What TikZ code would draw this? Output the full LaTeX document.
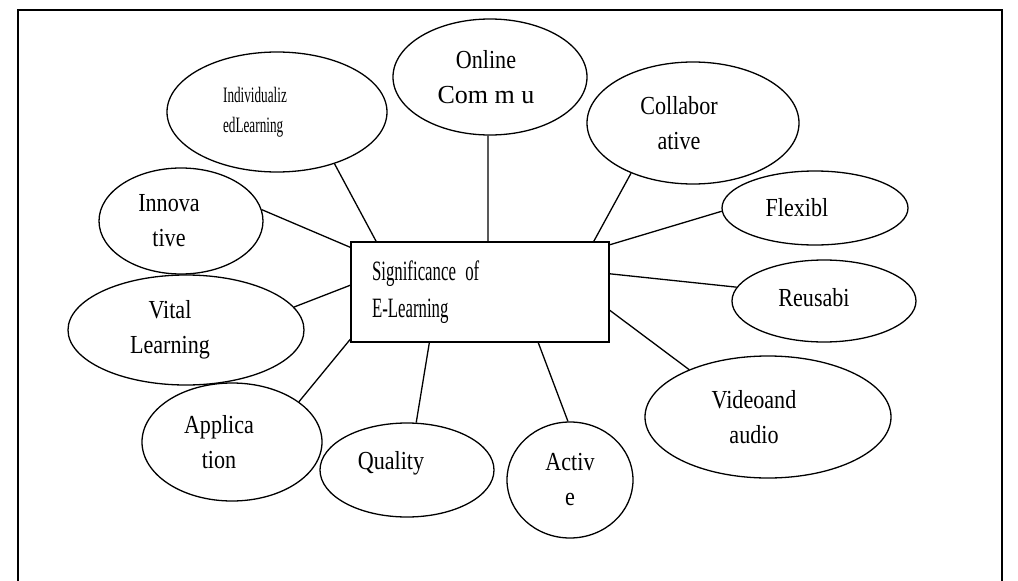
\documentclass[tikz,border=0pt]{standalone}
\usepackage{fontspec}
\setmainfont{Liberation Serif}
\newfontfamily\squeezed[FakeStretch=0.85]{Liberation Serif}
\newfontfamily\tightsqueezed[FakeStretch=0.6]{Liberation Serif}
\usetikzlibrary{shapes.geometric}
\begin{document}
\begin{tikzpicture}[x=1pt,y=-1pt,line width=1.3pt,
  topic/.style={draw,ellipse,inner sep=0pt},
  tag/.style={align=center,inner sep=0pt,font=\fontsize{26}{35}\selectfont\squeezed},
  hub/.style={draw,rectangle,inner xsep=21pt,text width=216pt,minimum height=100pt,align=left,font=\fontsize{28}{37}\selectfont\tightsqueezed}]
\useasboundingbox (0,0) rectangle (1018,581);

% frame
\draw (18,581) -- (18,10) -- (1002,10) -- (1002,581);

\node[hub] (sig) at (480,292) {Significance of\\E-Learning};

\node[topic,minimum width=194pt,minimum height=116pt,label={[tag,xshift=-4pt]center:Online\\{\rmfamily Com m u}}] (onl) at (490,77) {};
\node[topic,minimum width=220pt,minimum height=120pt,label={[tag,align=left,xshift=-22pt,font=\fontsize{22}{30}\selectfont\tightsqueezed]center:Individualiz\\edLearning}] (ind) at (277,112) {};
\node[topic,minimum width=212pt,minimum height=122pt,label={[tag,xshift=-14pt]center:Collabor\\ative}] (col) at (693,123) {};
\node[topic,minimum width=186pt,minimum height=74pt,label={[tag,xshift=-18pt]center:Flexibl}] (flx) at (815,208) {};
\node[topic,minimum width=184pt,minimum height=82pt,label={[tag,xshift=-10pt,yshift=3pt]center:Reusabi}] (reu) at (824,301) {};
\node[topic,minimum width=246pt,minimum height=122pt,label={[tag,xshift=-14pt]center:Videoand\\audio}] (vid) at (768,417) {};
\node[topic,minimum width=126pt,minimum height=116pt,label={[tag]center:Activ\\e}] (act) at (570,480) {};
\node[topic,minimum width=174pt,minimum height=94pt,label={[tag,xshift=-16pt,yshift=7pt]center:Quality}] (qua) at (407,470) {};
\node[topic,minimum width=180pt,minimum height=118pt,label={[tag,xshift=-13pt]center:Applica\\tion}] (app) at (232,442) {};
\node[topic,minimum width=236pt,minimum height=110pt,label={[tag,xshift=-16pt]center:Vital\\Learning}] (vit) at (186,330) {};
\node[topic,minimum width=164pt,minimum height=106pt,label={[tag,xshift=-12pt]center:Innova\\tive}] (inn) at (181,221) {};

% spokes
\draw (onl.268) -- (sig.81);
\draw (ind.318) -- (sig.154);
\draw (col.219) -- (sig.24);
\draw (flx.182) -- (sig.20);
\draw (reu.171) -- (sig.8);
\draw (vid.149) -- (sig.352);
\draw (act.92) -- (sig.319);
\draw (qua.79) -- (sig.225);
\draw (app.31) -- (sig.200);
\draw (vit.12) -- (sig.177);
\draw (inn.8) -- (sig.161);
\end{tikzpicture}
\end{document}
